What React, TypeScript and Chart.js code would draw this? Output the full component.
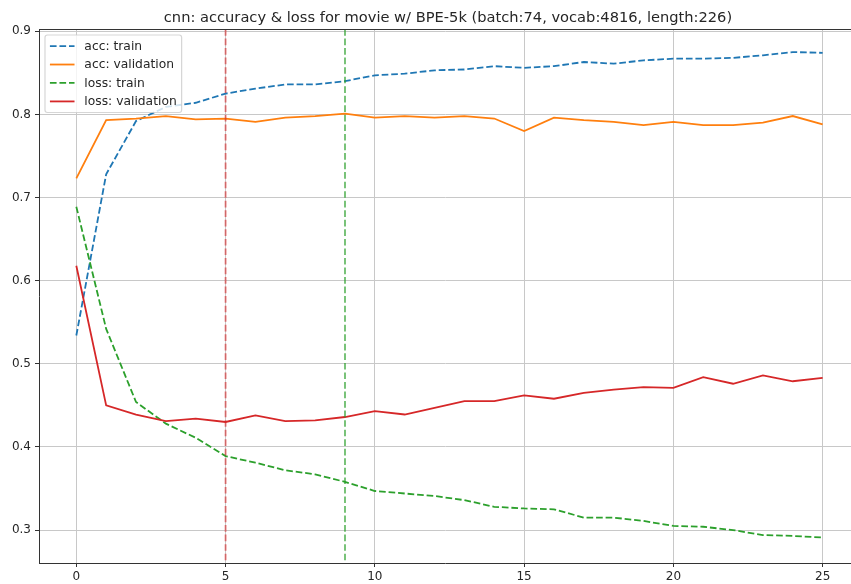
import React, { useEffect, useRef } from 'react';
import { Chart, registerables } from 'chart.js';

Chart.register(...registerables);

const TITLE = 'cnn: accuracy & loss for movie w/ BPE-5k (batch:74, vocab:4816, length:226)';

const EPOCHS = [0, 1, 2, 3, 4, 5, 6, 7, 8, 9, 10, 11, 12, 13, 14, 15, 16, 17, 18, 19, 20, 21, 22, 23, 24, 25];

const ACC_TRAIN = [0.534, 0.728, 0.792, 0.809, 0.814, 0.825, 0.831, 0.836, 0.836, 0.840, 0.847, 0.849, 0.853, 0.854, 0.858, 0.856, 0.858, 0.863, 0.861, 0.865, 0.867, 0.867, 0.868, 0.871, 0.875, 0.874];
const ACC_VAL = [0.723, 0.793, 0.795, 0.798, 0.794, 0.795, 0.791, 0.796, 0.798, 0.801, 0.796, 0.798, 0.796, 0.798, 0.795, 0.780, 0.796, 0.793, 0.791, 0.787, 0.791, 0.787, 0.787, 0.790, 0.798, 0.788];
const LOSS_TRAIN = [0.689, 0.542, 0.454, 0.428, 0.411, 0.389, 0.381, 0.372, 0.367, 0.358, 0.347, 0.344, 0.341, 0.336, 0.328, 0.326, 0.325, 0.315, 0.315, 0.311, 0.305, 0.304, 0.300, 0.294, 0.293, 0.291];
const LOSS_VAL = [0.618, 0.450, 0.439, 0.431, 0.434, 0.430, 0.438, 0.431, 0.432, 0.436, 0.443, 0.439, 0.447, 0.455, 0.455, 0.462, 0.458, 0.465, 0.469, 0.472, 0.471, 0.484, 0.476, 0.486, 0.479, 0.483];

const SERIES_LABELS = ['acc: train', 'acc: validation', 'loss: train', 'loss: validation'];

// epochs marked by vertical lines (best val loss, best val acc)
const MARKER_EPOCHS = [5, 9];

const X_TICKS = [0, 5, 10, 15, 20, 25];
const Y_TICKS = [0.3, 0.4, 0.5, 0.6, 0.7, 0.8, 0.9];

// axis limits (full matplotlib axes x-range is -1.25..26.25; picture is cropped at the right)
const X_MIN = -1.25;
const X_MAX = 25.95;
const X_FULL_MAX = 26.25;
const Y_MIN = 0.2604;
const Y_MAX = 0.9027;

// styles
const FONT = '"DejaVu Sans", sans-serif';
const TEXT_COLOR = '#262626';
const SERIES_COLORS = ['#1f77b4', '#ff7f0e', '#2ca02c', '#d62728'];
const SERIES_DASHED = [true, false, true, false];
const MARKER_COLORS = ['rgba(214,39,40,0.6)', 'rgba(44,160,44,0.7)'];
const DASH = [6.66, 2.88];
const LINE_W = 1.8;

const overlayPlugin = {
  id: 'overlay',
  afterDatasetsDraw(chart: any) {
    const { ctx, chartArea } = chart;
    const xs = chart.scales.x;
    ctx.save();
    ctx.beginPath();
    ctx.rect(chartArea.left, chartArea.top, chartArea.right - chartArea.left, chartArea.bottom - chartArea.top);
    ctx.clip();
    MARKER_EPOCHS.forEach((ep, i) => {
      const px = xs.getPixelForValue(ep);
      ctx.beginPath();
      ctx.setLineDash(DASH);
      ctx.lineWidth = LINE_W;
      ctx.strokeStyle = MARKER_COLORS[i];
      ctx.moveTo(px, chartArea.top);
      ctx.lineTo(px, chartArea.bottom);
      ctx.stroke();
    });
    ctx.restore();
    // top spine
    ctx.save();
    ctx.strokeStyle = '#333';
    ctx.lineWidth = 1;
    ctx.beginPath();
    ctx.moveTo(chartArea.left, Math.round(chartArea.top) + 0.5);
    ctx.lineTo(chartArea.right, Math.round(chartArea.top) + 0.5);
    ctx.stroke();
    ctx.restore();
  },
  afterDraw(chart: any) {
    const { ctx, chartArea } = chart;
    const xs = chart.scales.x;
    // title centered over the full axes
    ctx.save();
    ctx.font = `14.65px ${FONT}`;
    ctx.fillStyle = TEXT_COLOR;
    ctx.textAlign = 'center';
    ctx.textBaseline = 'alphabetic';
    const cx = (xs.getPixelForValue(X_MIN) + xs.getPixelForValue(X_FULL_MAX)) / 2 - 1.5;
    ctx.fillText(TITLE, cx, chartArea.top - 7.2);
    ctx.restore();

    // legend
    const fs = 12.3;
    ctx.save();
    ctx.font = `${fs}px ${FONT}`;
    const textW = Math.max(...SERIES_LABELS.map((l) => ctx.measureText(l).width));
    const pad = 0.4 * fs;
    const handleLen = 2 * fs;
    const handlePad = 0.8 * fs;
    const rowH = 1.0 * fs;
    const spacing = 0.5 * fs;
    const left = chartArea.left + 6;
    const top = chartArea.top + 6;
    const w = pad * 2 + handleLen + handlePad + textW;
    const h = pad * 2 + rowH * SERIES_LABELS.length + spacing * (SERIES_LABELS.length - 1);
    ctx.beginPath();
    (ctx as any).roundRect(left, top, w, h, 0.2 * fs);
    ctx.fillStyle = 'rgba(255,255,255,0.8)';
    ctx.fill();
    ctx.lineWidth = 1.2;
    ctx.strokeStyle = 'rgba(204,204,204,0.8)';
    ctx.stroke();
    SERIES_LABELS.forEach((label, i) => {
      const cy = top + pad + rowH / 2 + i * (rowH + spacing);
      const x0 = left + pad;
      ctx.beginPath();
      ctx.setLineDash(SERIES_DASHED[i] ? DASH : []);
      ctx.lineWidth = LINE_W;
      ctx.strokeStyle = SERIES_COLORS[i];
      ctx.moveTo(x0, cy);
      ctx.lineTo(x0 + handleLen, cy);
      ctx.stroke();
      ctx.setLineDash([]);
      ctx.fillStyle = TEXT_COLOR;
      ctx.textAlign = 'left';
      ctx.textBaseline = 'middle';
      ctx.fillText(label, x0 + handleLen + handlePad, cy + 0.5);
    });
    ctx.restore();
  },
};

export default function App() {
  const ref = useRef<HTMLCanvasElement | null>(null);

  useEffect(() => {
    document.body.style.margin = '0';
    const seriesValues = [ACC_TRAIN, ACC_VAL, LOSS_TRAIN, LOSS_VAL];
    const datasets = seriesValues.map((vals, i) => ({
      label: SERIES_LABELS[i],
      data: EPOCHS.map((e, j) => ({ x: e, y: vals[j] })),
      borderColor: SERIES_COLORS[i],
      backgroundColor: SERIES_COLORS[i],
      borderWidth: LINE_W,
      borderDash: SERIES_DASHED[i] ? DASH : [],
      pointRadius: 0,
      pointHoverRadius: 0,
      tension: 0,
      fill: false,
      order: seriesValues.length - i,
    }));

    const gridColor = '#c8c8c8';
    const chart = new Chart(ref.current as HTMLCanvasElement, {
      type: 'line',
      data: { datasets },
      options: {
        animation: false,
        responsive: false,
        devicePixelRatio: 1,
        layout: { padding: { top: 29, left: 0, right: 0, bottom: 0 } },
        plugins: {
          legend: { display: false },
          title: { display: false },
          tooltip: { enabled: false },
        },
        scales: {
          x: {
            type: 'linear',
            min: X_MIN,
            max: X_MAX,
            afterBuildTicks: (scale: any) => {
              scale.ticks = X_TICKS.map((v) => ({ value: v }));
            },
            afterFit: (scale: any) => {
              scale.height = 21;
            },
            ticks: {
              font: { family: FONT, size: 12 },
              color: TEXT_COLOR,
              padding: 3,
              maxRotation: 0,
              autoSkip: false,
              callback: (v: any) => String(v),
            },
            grid: {
              color: gridColor,
              lineWidth: 1,
              tickColor: '#333',
              tickLength: 4,
              drawTicks: true,
            },
            border: { display: true, color: '#333', width: 1 },
          },
          y: {
            type: 'linear',
            min: Y_MIN,
            max: Y_MAX,
            afterBuildTicks: (scale: any) => {
              scale.ticks = Y_TICKS.map((v) => ({ value: v }));
            },
            afterFit: (scale: any) => {
              scale.width = 39;
            },
            ticks: {
              font: { family: FONT, size: 12 },
              color: TEXT_COLOR,
              padding: 4,
              autoSkip: false,
              callback: (v: any) => Number(v).toFixed(1),
            },
            grid: {
              color: gridColor,
              lineWidth: 1,
              tickColor: '#333',
              tickLength: 4,
              drawTicks: true,
            },
            border: { display: true, color: '#333', width: 1 },
          },
        },
      },
      plugins: [overlayPlugin],
    } as any);
    return () => chart.destroy();
  }, []);

  return (
    <canvas
      ref={ref}
      width={851}
      height={584}
      style={{ display: 'block', width: 851, height: 584 }}
    />
  );
}
